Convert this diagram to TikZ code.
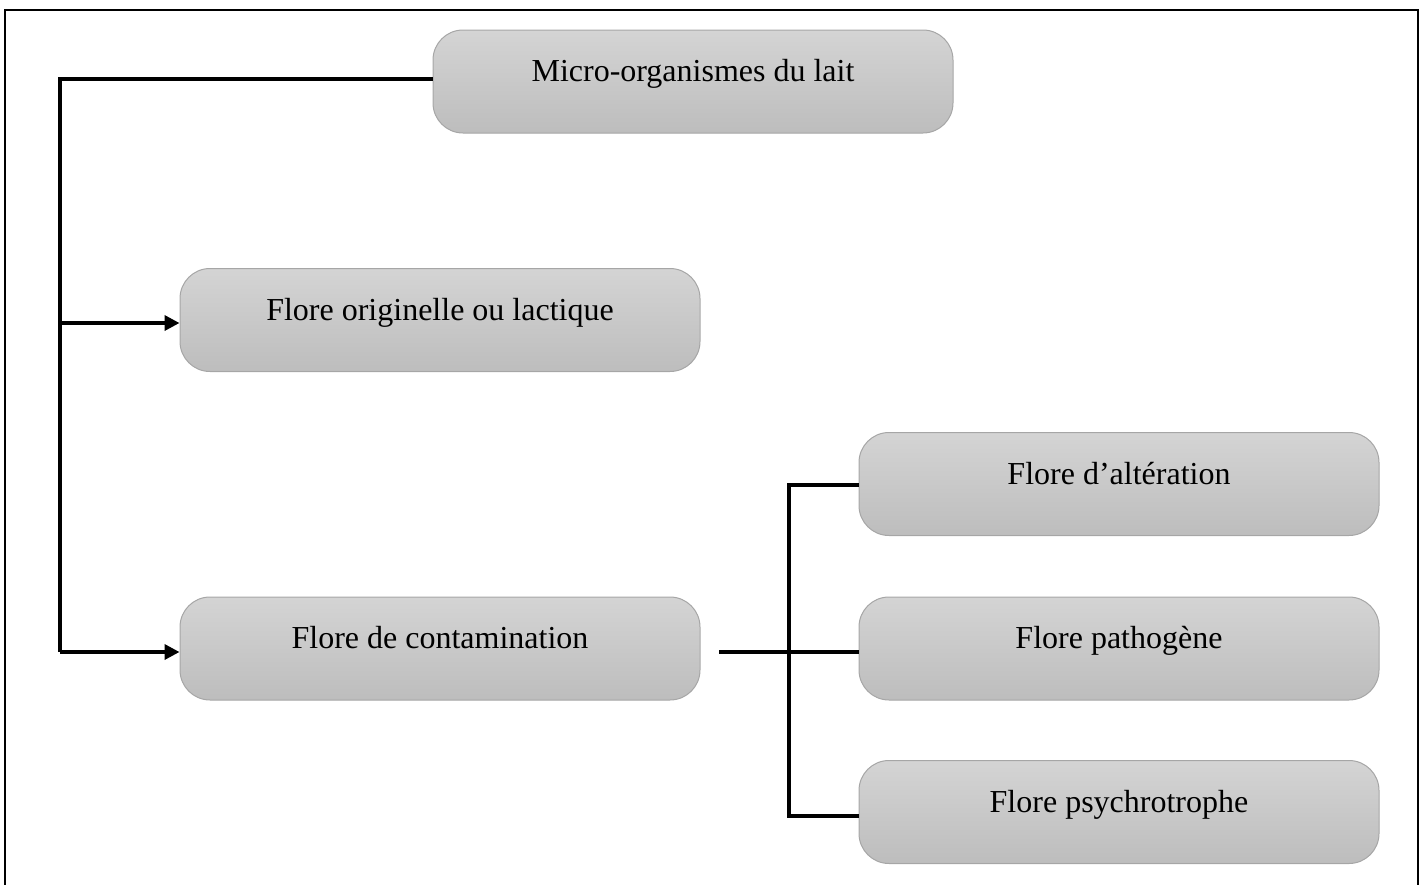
\documentclass[tikz,border=0pt]{standalone}
\usepackage{fontspec}
\setmainfont{Liberation Serif}
\usetikzlibrary{arrows.meta}
\definecolor{boxtop}{HTML}{D4D4D4}
\definecolor{boxbot}{HTML}{BDBDBD}
\definecolor{boxedge}{HTML}{A6A6A6}
\tikzset{
  box/.style={draw=boxedge, line width=1pt, top color=boxtop, bottom color=boxbot,
    rounded corners=30pt, minimum width=520pt, minimum height=103pt, inner sep=0pt},
  txt/.style={anchor=base, inner sep=0pt, font=\fontsize{32}{37}\selectfont},
  conn/.style={line width=3.5pt, black},
  arr/.style={conn, -{Triangle[length=15pt,width=15pt]}},
}
\begin{document}
\begin{tikzpicture}[x=1pt,y=-1pt]
\useasboundingbox (0,0) rectangle (1425,884);
% frame
\draw[line width=2.5pt] (5,890) -- (5,10) -- (1418,10) -- (1418,890);
% boxes
\node[box] (mo) at (693,81.5) {};
\node[box] (fo) at (440,320) {};
\node[box] (fc) at (440,648.5) {};
\node[box] (fa) at (1119,484) {};
\node[box] (fp) at (1119,648.5) {};
\node[box] (fs) at (1119,812) {};
% texts
\node[txt] (tmo) at (mo.center) {Micro-organismes du lait};
\node[txt] (tfo) at (fo.center) {Flore originelle ou lactique};
\node[txt] (tfc) at (fc.center) {Flore de contamination};
\node[txt] (tfa) at (fa.center) {Flore d’altération};
\node[txt] (tfp) at (fp.center) {Flore pathogène};
\node[txt] (tfs) at (fs.center) {Flore psychrotrophe};
% connector coordinates
\coordinate (lv) at (60,79);
\coordinate (rv) at (789,652);
\coordinate (cs) at (719,652);
% connectors
\draw[conn] (mo.west |- lv) -- (lv) -- (60,652);
\draw[arr] (60,323) -- (fo.west |- 0,323);
\draw[arr] (60,652) -- (fc.west |- 0,652);
\draw[conn] (cs) -- (rv);
\draw[conn] (fa.west |- 0,485) -| (789,816) -- (fs.west |- 0,816);
\draw[conn] (rv) -- (fp.west |- 0,652);
\end{tikzpicture}
\end{document}
